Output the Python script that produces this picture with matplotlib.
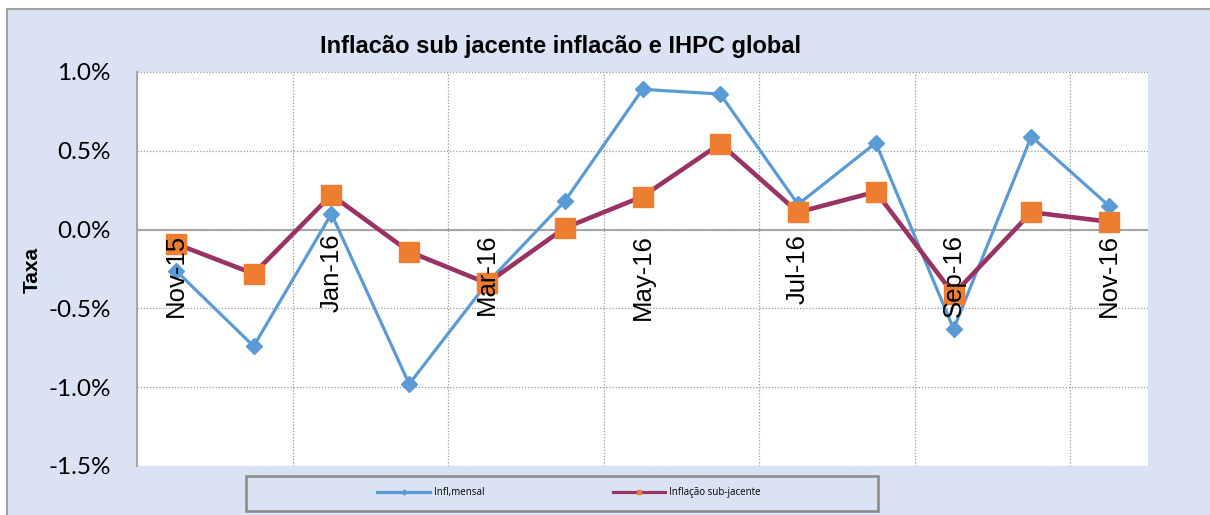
import numpy as np
import matplotlib.pyplot as plt
from matplotlib.patches import Rectangle
from matplotlib.lines import Line2D
from matplotlib.transforms import ScaledTranslation

# Dados (em %)
meses = ['Nov-15', 'Dec-15', 'Jan-16', 'Feb-16', 'Mar-16', 'Apr-16', 'May-16',
         'Jun-16', 'Jul-16', 'Aug-16', 'Sep-16', 'Oct-16', 'Nov-16']
infl_mensal = [-0.26, -0.74, 0.10, -0.98, -0.34, 0.18, 0.89, 0.86, 0.16, 0.55, -0.63, 0.59, 0.15]
infl_subjacente = [-0.09, -0.28, 0.22, -0.14, -0.34, 0.01, 0.21, 0.545, 0.11, 0.24, -0.41, 0.11, 0.05]
yticks = [-1.5, -1.0, -0.5, 0.0, 0.5, 1.0]

bg = '#dae3f3'
azul = '#5b9bd5'; roxo = '#993366'; laranja = '#ed7d31'

fig = plt.figure(figsize=(12.1, 5.15), dpi=100)
fig.patch.set_facecolor('white')
W, H = 1210, 515
# fundo do gráfico com borda cinza (só esquerda e topo)
fig.patches.append(Rectangle((7/W, 0), 1, 1 - 9/H, transform=fig.transFigure,
                             facecolor=bg, edgecolor='none', zorder=-1))
fig.add_artist(Line2D([7/W, 7/W, 1], [0, 1 - 9/H, 1 - 9/H], transform=fig.transFigure,
                      color='#a0a0a0', lw=1.5))

ax = fig.add_axes([137/W, 49/H, (1148-137)/W, (466-72)/H])
x = np.arange(len(meses))

ax.plot(x, infl_mensal, color=azul, lw=2.3, marker='D', ms=8.5, mec=azul, mfc=azul, zorder=3)
ax.plot(x, infl_subjacente, color=roxo, lw=3.3, zorder=4)
ax.plot(x, infl_subjacente, ls='none', marker='s', ms=14, mfc=laranja, mec=laranja, zorder=5)

ax.set_xlim(-0.5, len(meses) - 0.5)
ax.set_ylim(-1.5, 1.0)
ax.set_yticks(yticks)
ax.set_yticklabels([f'{v:.1f}%' for v in yticks], family='Lato', fontsize=17.5)
ax.set_xticks(np.arange(1.5, len(meses) - 1, 2))
ax.set_xticklabels([])
ax.tick_params(length=0, pad=19)
ax.grid(True, color='#999999', ls=(0, (1, 1.5)), lw=0.9)
ax.axhline(0, color='#a6a6a6', lw=1.5, zorder=2)
for s in ['top', 'right', 'bottom']:
    ax.spines[s].set_visible(False)
ax.spines['left'].set_color('#a6a6a6')
ax.spines['left'].set_linewidth(1.5)

# Rótulos das categorias (a cada dois meses), sobre a linha do zero
desloc = ax.transData + ScaledTranslation(0, -3/72, fig.dpi_scale_trans)
for i in range(0, len(meses), 2):
    ax.text(i, 0, meses[i], rotation=90, ha='center', va='top', fontsize=18.5,
            family='Liberation Sans', zorder=10, transform=desloc)

ax.set_ylabel('Taxa', fontsize=15, fontweight='bold', family='Liberation Sans')
ax.yaxis.set_label_coords(-0.094, 0.497)

fig.text(561/W, 1 - 46/H, 'Inflacão sub jacente inflacão e IHPC global', ha='center', va='center',
         fontsize=17, fontweight='bold', family='Liberation Sans')

# Legenda
fig.patches.append(Rectangle((246/W, 1 - 511/H), (878-246)/W, 35/H, transform=fig.transFigure,
                             facecolor=bg, edgecolor='#888888', lw=1.8, zorder=1))
handles = [Line2D([], [], color=azul, lw=2.3, marker='D', ms=2.5),
           Line2D([], [], color=roxo, lw=2.3, marker='s', ms=3, mfc=laranja, mec=laranja)]
leg = fig.legend(handles, ['Infl,mensal', 'Inflação sub-jacente'], loc='center',
                 bbox_to_anchor=(569/W, 1 - 493/H), ncol=2, frameon=False,
                 handlelength=5.4, handletextpad=0.4, columnspacing=13.2,
                 prop={'family': 'Open Sans', 'size': 7})

fig.savefig('out.png', dpi=100, facecolor=fig.get_facecolor())
